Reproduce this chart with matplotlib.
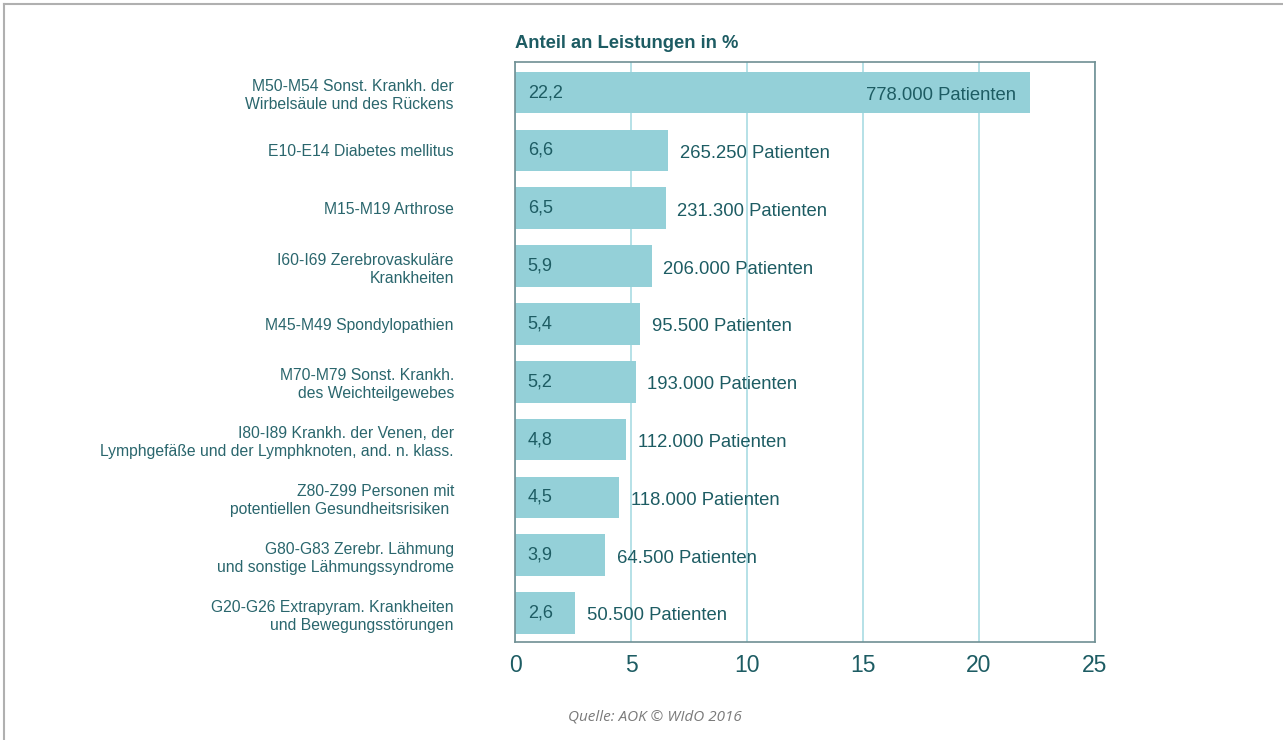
import matplotlib
matplotlib.use("Agg")
import matplotlib.pyplot as plt
from matplotlib.lines import Line2D

plt.rcParams['font.family'] = ['Liberation Sans', 'DejaVu Sans']

categories = [
    "M50-M54 Sonst. Krankh. der\nWirbelsäule und des Rückens",
    "E10-E14 Diabetes mellitus",
    "M15-M19 Arthrose",
    "I60-I69 Zerebrovaskuläre\nKrankheiten",
    "M45-M49 Spondylopathien",
    "M70-M79 Sonst. Krankh.\ndes Weichteilgewebes",
    "I80-I89 Krankh. der Venen, der\nLymphgefäße und der Lymphknoten, and. n. klass.",
    "Z80-Z99 Personen mit\npotentiellen Gesundheitsrisiken ",
    "G80-G83 Zerebr. Lähmung\nund sonstige Lähmungssyndrome",
    "G20-G26 Extrapyram. Krankheiten\nund Bewegungsstörungen",
]
shares = [22.2, 6.6, 6.5, 5.9, 5.4, 5.2, 4.8, 4.5, 3.9, 2.6]
patients = ["778.000", "265.250", "231.300", "206.000", "95.500",
            "193.000", "112.000", "118.000", "64.500", "50.500"]
xticks = [0, 5, 10, 15, 20, 25]

teal = "#1d5c63"
label_col = "#2a666d"
bar_col = "#94d0d8"
grid_col = "#a9dbe3"
spine_col = "#6f8f93"

fig = plt.figure(figsize=(12.83, 7.40), dpi=100)
ax = fig.add_axes([515 / 1283, 1 - 642 / 740, 580 / 1283, 580 / 740])

ypos = list(range(len(categories)))
ax.barh(ypos, shares, height=0.72, color=bar_col, zorder=2)
ax.set_xlim(0, 25)
ax.set_ylim(9.5, -0.53)
ax.set_xticks(xticks)
ax.set_xticklabels([str(t) for t in xticks], fontsize=16.5, color=teal)
ax.set_yticks(ypos)
ax.set_yticklabels(categories, fontsize=11.3, color=label_col, linespacing=1.25)
ax.tick_params(axis='y', length=0, pad=44)
ax.tick_params(axis='x', length=0, pad=9)
ax.grid(axis='x', color=grid_col, linewidth=1.2, zorder=1)
for s in ax.spines.values():
    s.set_color(spine_col)
    s.set_linewidth(1.2)

for y, v, p in zip(ypos, shares, patients):
    ax.text(0.55, y, f"{v:.1f}".replace(".", ","), va='center', ha='left',
            fontsize=13, color=teal, zorder=3)
    if v > 20:
        ax.text(v - 0.6, y + 0.05, f"{p} Patienten", va='center', ha='right',
                fontsize=13.3, color=teal, zorder=3)
    else:
        ax.text(v + 0.5, y + 0.05, f"{p} Patienten", va='center', ha='left',
                fontsize=13.3, color=teal, zorder=3)

fig.text(515 / 1283, 1 - 44 / 740, "Anteil an Leistungen in %", fontsize=13.2,
         fontweight='bold', color=teal, va='center', ha='left')
fig.text(655 / 1283, 1 - 717 / 740, "Quelle: AOK © WIdO 2016", fontsize=11,
         style='italic', color='#7a7a7a', va='center', ha='center',
         family=['Open Sans', 'DejaVu Sans'])

# frame lines at top and left
fig.add_artist(Line2D([4 / 1283, 1], [1 - 4 / 740, 1 - 4 / 740],
                      transform=fig.transFigure, color='#b0b0b0', linewidth=1.5))
fig.add_artist(Line2D([4 / 1283, 4 / 1283], [0, 1 - 4 / 740],
                      transform=fig.transFigure, color='#b0b0b0', linewidth=1.5))

fig.savefig("out.png", dpi=100)
